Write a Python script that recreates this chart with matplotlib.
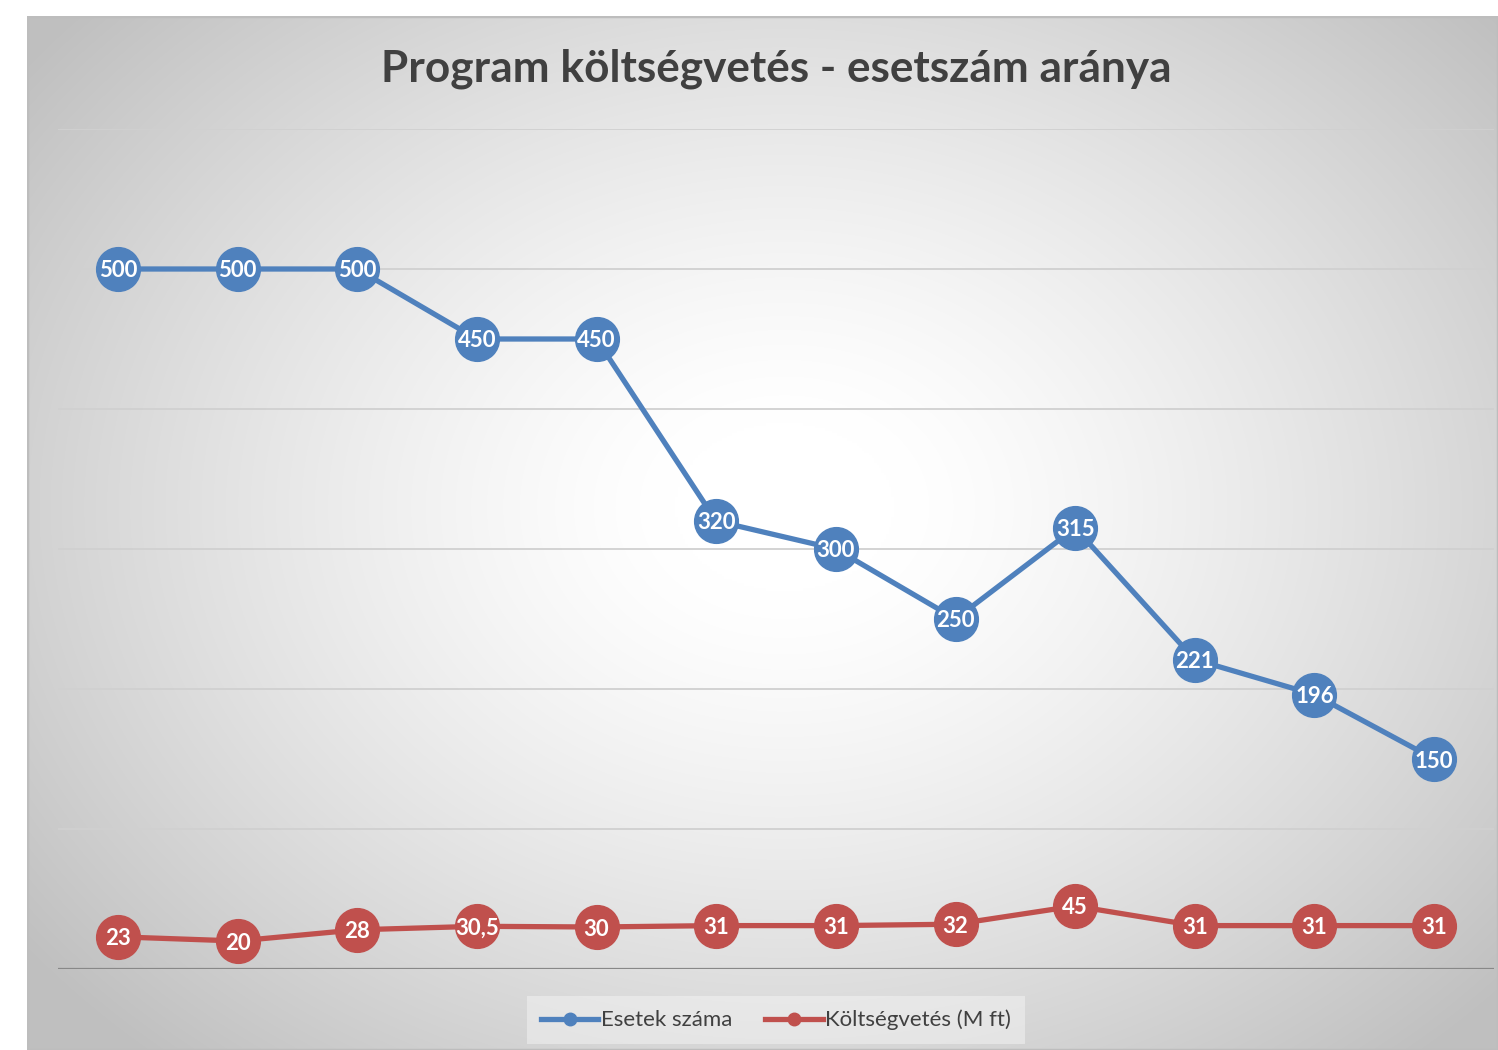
import numpy as np
import matplotlib
matplotlib.use('Agg')
from matplotlib import pyplot as plt
from matplotlib.lines import Line2D
from matplotlib.patches import Rectangle

# Data
categories = list(range(1, 13))
esetek = [500, 500, 500, 450, 450, 320, 300, 250, 315, 221, 196, 150]
koltseg = [23, 20, 28, 30.5, 30, 31, 31, 32, 45, 31, 31, 31]
koltseg_labels = ['23', '20', '28', '30,5', '30', '31', '31', '32', '45', '31', '31', '31']
esetek_labels = [str(v) for v in esetek]

BLUE = '#4f81bd'
RED = '#c0504d'
TEXT = '#404040'
FONT = ['Lato', 'DejaVu Sans']

W, H = 1498, 1050
fig = plt.figure(figsize=(W / 100, H / 100), dpi=100)
fig.patch.set_facecolor('white')

# Chart area background (radial gradient)
x0, y0 = 27, 16
bg = fig.add_axes([x0 / W, 0, 1 - x0 / W, 1 - y0 / H])
bg.set_axis_off()
gx = np.linspace(-1, 1, 600)
gy = np.linspace(-1, 1, 420)
XX, YY = np.meshgrid(gx, gy)
r = np.sqrt(((XX - 0.03) / 1.0) ** 2 + ((YY + 0.05) / 1.1) ** 2)
shade = 1.0 - 0.25 * np.clip((r - 0.15) / 1.15, 0, 1) ** 1.3
img = np.dstack([shade, shade, shade])
bg.imshow(img, aspect='auto', extent=[0, 1, 0, 1], interpolation='bilinear')
bg.set_xlim(0, 1)
bg.set_ylim(0, 1)
bg.add_patch(Rectangle((0, 0), 1, 1, fill=False, edgecolor='#bdbdbd', linewidth=2.5,
                       transform=bg.transAxes))

# Plot area
left, right, top, bottom = 58, 1494, 129, 969
ax = fig.add_axes([left / W, (H - bottom) / H, (right - left) / W, (bottom - top) / H])
ax.patch.set_alpha(0)
x = np.arange(len(categories))
ax.set_xlim(-0.5, len(categories) - 0.5)
ax.set_ylim(0, 600)
for v in range(100, 601, 100):
    ax.axhline(v, color='#d0d0d0', linewidth=1.3, zorder=1)
ax.axhline(0, color='#888888', linewidth=1.6, zorder=1)
for s in ax.spines.values():
    s.set_visible(False)
ax.set_xticks([])
ax.set_yticks([])

ms = 31.5
ax.plot(x, esetek, color=BLUE, linewidth=3.8, marker='o', markersize=ms,
        markerfacecolor=BLUE, markeredgecolor=BLUE, zorder=3, solid_capstyle='round')
ax.plot(x, koltseg, color=RED, linewidth=3.8, marker='o', markersize=ms,
        markerfacecolor=RED, markeredgecolor=RED, zorder=3, solid_capstyle='round')

for xi, v, lab in zip(x, esetek, esetek_labels):
    ax.text(xi, v, lab, ha='center', va='center_baseline', color='white', fontsize=16,
            fontweight='bold', family=FONT, zorder=4)
for xi, v, lab in zip(x, koltseg, koltseg_labels):
    ax.text(xi, v, lab, ha='center', va='center_baseline', color='white', fontsize=16,
            fontweight='bold', family=FONT, zorder=4)

# Title
fig.text(776 / W, 1 - 69 / H, 'Program költségvetés - esetszám aránya', ha='center', va='center',
         fontsize=31.8, fontweight='bold', color=TEXT, family=FONT)

# Legend
handles = [
    Line2D([], [], color=BLUE, linewidth=3.8, marker='o', markersize=9),
    Line2D([], [], color=RED, linewidth=3.8, marker='o', markersize=9),
]
leg = fig.legend(handles, ['Esetek száma', 'Költségvetés (M ft)'], loc='center',
                 bbox_to_anchor=(776 / W, 1 - 1020 / H), ncol=2, frameon=True,
                 handlelength=2.6, handletextpad=0.1, columnspacing=1.5,
                 borderpad=0.6, prop={'family': FONT, 'size': 16})
leg.get_frame().set_facecolor('#f4f4f4')
leg.get_frame().set_edgecolor('none')
leg.get_frame().set_alpha(0.5)
leg.get_frame().set_boxstyle('square', pad=0)
for t in leg.get_texts():
    t.set_color(TEXT)

fig.savefig('out.png', dpi=100)
